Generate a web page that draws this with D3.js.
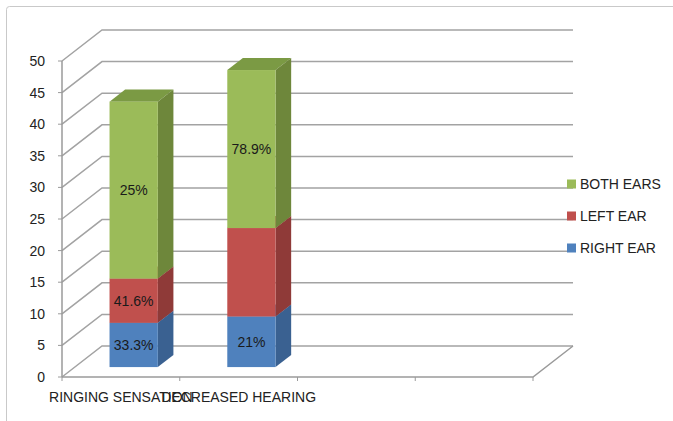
<!DOCTYPE html>
<html>
<head>
<meta charset="utf-8">
<script src="https://cdn.jsdelivr.net/npm/d3@7"></script>
<style>
  html, body { margin: 0; padding: 0; background: #fff; }
  text { font-family: "Liberation Sans", Arial, sans-serif; }
</style>
</head>
<body>
<div id="chart"></div>
<script>
// data
const categories = ["RINGING SENSATION", "DECREASED HEARING"];
const slotCount = 4; // the axis has four category slots, two are empty
const series = ["RIGHT EAR", "LEFT EAR", "BOTH EARS"];
const rightEar = [7, 8];
const leftEar = [7, 14];
const bothEars = [28, 25];
const rightLabels = ["33.3%", "21%"];
const leftLabels = ["41.6%", ""];
const bothLabels = ["25%", "78.9%"];
const yTicks = [0, 5, 10, 15, 20, 25, 30, 35, 40, 45, 50];

const W = 673, H = 421;
const depthX = 40, depthY = -31;      // floor depth offset
const barFront = 0.32, barBack = 0.71; // bar position inside the depth
const colors = {
  "RIGHT EAR": {front: "#4f81bd", side: "#3a6191", top: "#5a86bd"},
  "LEFT EAR":  {front: "#c0504d", side: "#8f3a38", top: "#a84744"},
  "BOTH EARS": {front: "#9bbb59", side: "#6e873b", top: "#7b9a44"}
};

const svg = d3.select("#chart").append("svg")
  .attr("width", W)
  .attr("height", H);

// outer frame
svg.append("rect")
  .attr("x", 6.5).attr("y", 6.5)
  .attr("width", 720).attr("height", 460)
  .attr("rx", 3)
  .attr("fill", "none")
  .attr("stroke", "#c9c9c9");

const x = d3.scaleBand()
  .domain(d3.range(slotCount))
  .range([62, 533]);

const y = d3.scaleLinear()
  .domain([0, 50])
  .range([377, 61]);

function proj(px, v, f) {
  return [px + f * depthX, y(v) + f * depthY];
}

const grid = svg.append("g");

// side wall diagonals + back wall lines
yTicks.forEach(t => {
  const a = proj(x.range()[0], t, 0);
  const b = proj(x.range()[0], t, 1);
  const c = proj(x.range()[1], t, 1);
  grid.append("polyline")
    .attr("points", [a, b, c].map(p => p.join(",")).join(" "))
    .attr("fill", "none")
    .attr("stroke", "#a3a3a3")
    .attr("stroke-width", 1.5);
});

// floor front edge and right diagonal
const f0 = proj(x.range()[0], 0, 0);
const f1 = proj(x.range()[1], 0, 0);
const f2 = proj(x.range()[1], 0, 1);
grid.append("polyline")
  .attr("points", [f0, f1, f2].map(p => p.join(",")).join(" "))
  .attr("fill", "none")
  .attr("stroke", "#9a9a9a")
  .attr("stroke-width", 1.5);

// y axis front line
grid.append("line")
  .attr("x1", x.range()[0]).attr("x2", x.range()[0])
  .attr("y1", y(0)).attr("y2", y(50))
  .attr("stroke", "#9a9a9a")
  .attr("stroke-width", 1.5);

// y ticks & labels
yTicks.forEach(t => {
  grid.append("line")
    .attr("x1", x.range()[0] - 4).attr("x2", x.range()[0])
    .attr("y1", y(t)).attr("y2", y(t))
    .attr("stroke", "#9a9a9a");
  svg.append("text")
    .attr("x", 45)
    .attr("y", y(t))
    .attr("dy", "0.36em")
    .attr("text-anchor", "end")
    .attr("font-size", 14)
    .attr("fill", "#222")
    .text(t);
});

// category ticks
d3.range(slotCount + 1).forEach(i => {
  const px = x.range()[0] + i * x.step();
  grid.append("line")
    .attr("x1", px).attr("x2", px)
    .attr("y1", y(0)).attr("y2", y(0) + 4)
    .attr("stroke", "#9a9a9a");
});

// category labels
categories.forEach((c, i) => {
  svg.append("text")
    .attr("x", x(i) + x.bandwidth() / 2)
    .attr("y", 402)
    .attr("text-anchor", "middle")
    .attr("font-size", 14)
    .attr("fill", "#222")
    .text(c);
});

// stacked 3d bars
const table = categories.map((c, i) => ({
  cat: i,
  "RIGHT EAR": rightEar[i],
  "LEFT EAR": leftEar[i],
  "BOTH EARS": bothEars[i]
}));
const stack = d3.stack().keys(series)(table);
const labelSets = {"RIGHT EAR": rightLabels, "LEFT EAR": leftLabels, "BOTH EARS": bothLabels};
const barW = x.bandwidth() * 0.41;

const bars = svg.append("g");
stack.forEach(layer => {
  const col = colors[layer.key];
  layer.forEach((d, i) => {
    const x0 = x(d.data.cat) + (x.bandwidth() - barW) / 2;
    const x1 = x0 + barW;
    const pts = (arr) => arr.map(p => p.join(",")).join(" ");
    const g = bars.append("g");
    // top
    g.append("polygon")
      .attr("points", pts([proj(x0, d[1], barFront), proj(x1, d[1], barFront),
                           proj(x1, d[1], barBack), proj(x0, d[1], barBack)]))
      .attr("fill", col.top);
    // side
    g.append("polygon")
      .attr("points", pts([proj(x1, d[0], barFront), proj(x1, d[1], barFront),
                           proj(x1, d[1], barBack), proj(x1, d[0], barBack)]))
      .attr("fill", col.side);
    // front
    const a = proj(x0, d[1], barFront), b = proj(x1, d[0], barFront);
    g.append("rect")
      .attr("x", a[0]).attr("y", a[1])
      .attr("width", b[0] - a[0]).attr("height", b[1] - a[1])
      .attr("fill", col.front);
  });
});

// data labels on the front faces
stack.forEach(layer => {
  layer.forEach((d, i) => {
    const lbl = labelSets[layer.key][i];
    if (!lbl) return;
    const cx = x(d.data.cat) + x.bandwidth() / 2;
    const p = proj(cx, (d[0] + d[1]) / 2, barFront);
    svg.append("text")
      .attr("x", p[0])
      .attr("y", p[1])
      .attr("dy", "0.36em")
      .attr("text-anchor", "middle")
      .attr("font-size", 14)
      .attr("fill", "#1a1a1a")
      .text(lbl);
  });
});

// legend
const legend = svg.append("g").attr("transform", "translate(567,0)");
const legendY = {"BOTH EARS": 184, "LEFT EAR": 216, "RIGHT EAR": 248};
series.forEach(s => {
  legend.append("rect")
    .attr("x", 0).attr("y", legendY[s] - 4.5)
    .attr("width", 9).attr("height", 9)
    .attr("fill", colors[s].front);
  legend.append("text")
    .attr("x", 13).attr("y", legendY[s])
    .attr("dy", "0.36em")
    .attr("font-size", 14)
    .attr("fill", "#222")
    .text(s);
});
</script>
</body>
</html>
